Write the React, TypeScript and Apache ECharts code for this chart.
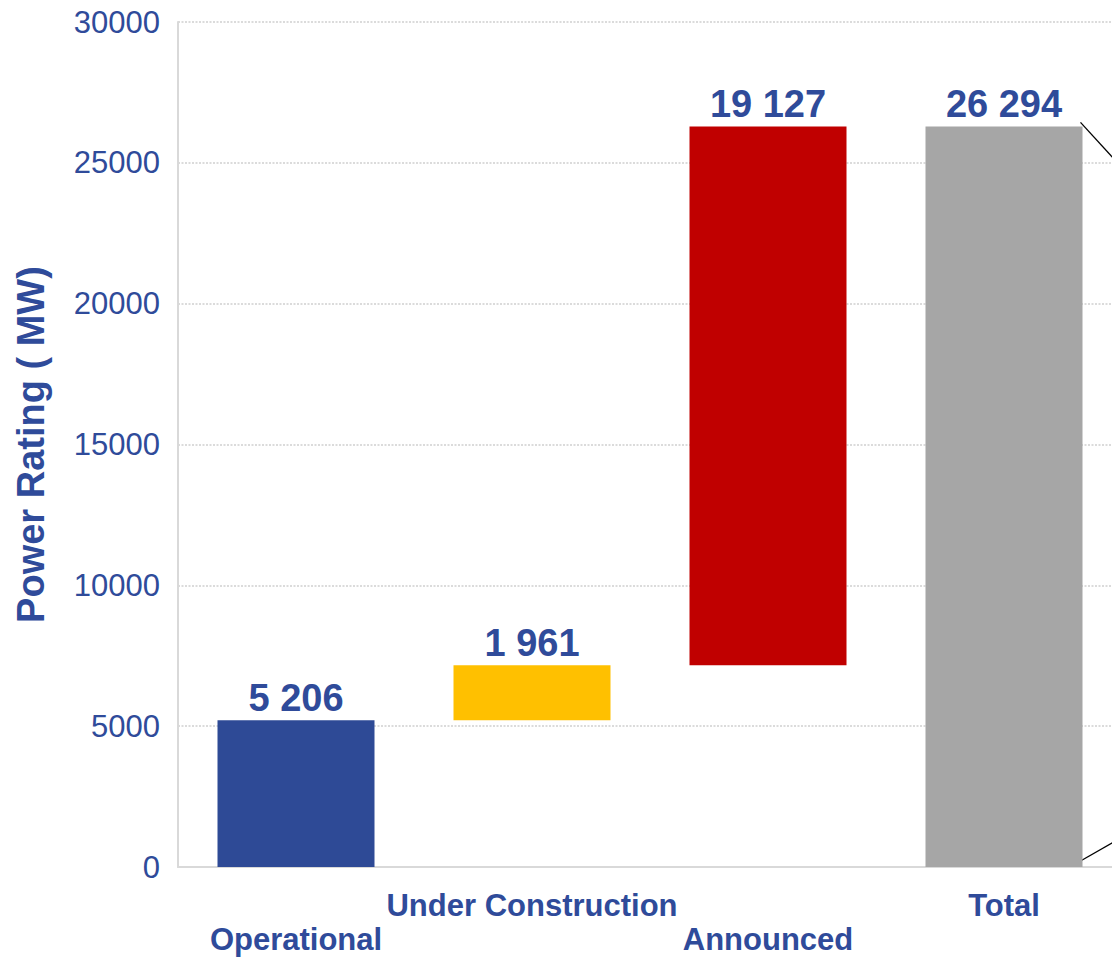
import React, { useEffect, useRef } from "react";
import * as echarts from "echarts";

const categories = ["Operational", "Under Construction", "Announced", "Total"];
const values = [5206, 1961, 19127, 26294];
const barColors = ["#2E4A96", "#FFC000", "#C00000", "#A6A6A6"];
const isTotal = [false, false, false, true];
const yTicks = { min: 0, max: 30000, interval: 5000 };

const TEXT = "#2F4B9A";
const FONT = "Liberation Sans, Arial, sans-serif";

function fmt(v: number) {
  return String(v).replace(/\B(?=(\d{3})+(?!\d))/g, " ");
}

export default function App() {
  const ref = useRef<HTMLDivElement>(null);
  useEffect(() => {
    if (!ref.current) return;
    const chart = echarts.init(ref.current, null, { renderer: "svg" });
    let acc = 0;
    const bases = values.map((v, i) => {
      if (isTotal[i]) return 0;
      const b = acc;
      acc += v;
      return b;
    });
    chart.setOption({
      animation: false,
      textStyle: { fontFamily: FONT },
      grid: { left: 178, top: 22, bottom: 90, right: -10, containLabel: false, outerBoundsMode: "none" },
      xAxis: {
        type: "category",
        data: categories,
        axisLine: { show: true, lineStyle: { color: "#D9D9D9", width: 2 } },
        axisTick: { show: false },
        axisLabel: {
          interval: 0,
          color: TEXT,
          fontFamily: FONT,
          fontWeight: "bold",
          fontSize: 31,
          margin: 21,
          lineHeight: 34,
          formatter: (v: string, i: number) => (i % 2 === 0 ? "\n" + v : v),
        },
      },
      yAxis: {
        type: "value",
        min: yTicks.min,
        max: yTicks.max,
        interval: yTicks.interval,
        name: "Power Rating ( MW)",
        nameLocation: "middle",
        nameGap: 128,
        nameRotate: 90,
        nameTextStyle: { color: TEXT, fontFamily: FONT, fontWeight: "bold", fontSize: 38 },
        axisLine: { show: true, lineStyle: { color: "#D9D9D9", width: 2 } },
        axisTick: { show: false },
        axisLabel: { color: TEXT, fontFamily: FONT, fontSize: 31, margin: 18, formatter: (v: number) => String(v) },
        splitLine: { show: true, lineStyle: { color: "#CFCFCF", type: [2, 1.5], width: 1.5 } },
      },
      series: [
        {
          type: "bar",
          stack: "w",
          silent: true,
          itemStyle: { color: "transparent" },
          data: bases,
          barWidth: 157,
        },
        {
          type: "bar",
          stack: "w",
          barWidth: 157,
          data: values.map((v, i) => ({ value: v, itemStyle: { color: barColors[i] } })),
          label: {
            show: true,
            position: "top",
            distance: 3,
            color: TEXT,
            fontFamily: FONT,
            fontWeight: "bold",
            fontSize: 38,
            formatter: (p: any) => fmt(p.value),
          },
        },
      ],
    });
    const last = values.length - 1;
    const top = chart.convertToPixel({ seriesIndex: 1 }, [last, values[last]]) as number[];
    const bot = chart.convertToPixel({ seriesIndex: 1 }, [last, 0]) as number[];
    const x0 = top[0] + 157 / 2 - 2;
    chart.setOption({
      graphic: [
        { type: "line", shape: { x1: x0, y1: top[1] - 4, x2: x0 + 44, y2: top[1] + 44 }, style: { stroke: "#000", lineWidth: 1.3 } },
        { type: "line", shape: { x1: x0, y1: bot[1] - 6, x2: x0 + 44, y2: bot[1] - 31 }, style: { stroke: "#000", lineWidth: 1.3 } },
      ],
    });
    return () => chart.dispose();
  }, []);
  return (
    <div
      ref={ref}
      style={{ position: "fixed", left: 0, top: 0, width: 1112, height: 957, background: "#fff" }}
    />
  );
}
